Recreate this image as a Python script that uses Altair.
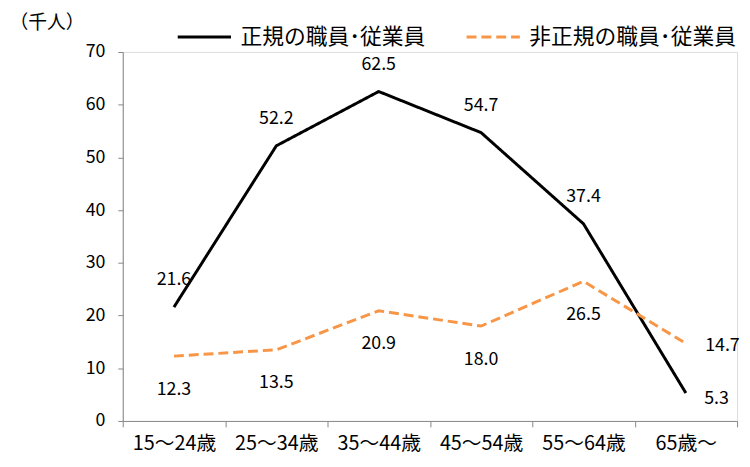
import altair as alt
import pandas as pd

categories = ["15～24歳", "25～34歳", "35～44歳", "45～54歳", "55～64歳", "65歳～"]
series_names = ["正規の職員･従業員", "非正規の職員･従業員"]
regular = [21.6, 52.2, 62.5, 54.7, 37.4, 5.3]
irregular = [12.3, 13.5, 20.9, 18.0, 26.5, 14.7]

rows = []
for i, c in enumerate(categories):
    rows.append({"age": c, "series": series_names[0], "value": regular[i], "idx": i})
    rows.append({"age": c, "series": series_names[1], "value": irregular[i], "idx": i})
df = pd.DataFrame(rows)

FONT = "Noto Sans CJK JP"
last = categories[-1]

x = alt.X("age:N", sort=categories, title=None,
          scale=alt.Scale(paddingInner=0, paddingOuter=0),
          axis=alt.Axis(labelAngle=0, tickBand="extent", labelFontSize=20, labelFont=FONT,
                        labelColor="#000", domainColor="#888", tickColor="#888",
                        tickSize=6, labelPadding=7, grid=False))
y = alt.Y("value:Q", scale=alt.Scale(domain=[0, 70]),
          axis=alt.Axis(values=list(range(0, 71, 10)), grid=False, labelFontSize=18,
                        labelFont=FONT, labelColor="#000", domainColor="#888",
                        tickColor="#888", tickSize=5, labelPadding=13,
                        title="（千人）", titleAngle=0, titleAlign="left",
                        titleBaseline="middle", titleX=-115, titleY=-30,
                        titleFont=FONT, titleFontSize=19, titleFontWeight="normal",
                        titleColor="#000"))

leg = dict(title=None, orient="none", legendX=54, legendY=-44,
           direction="horizontal", symbolType="stroke",
           symbolSize=2900, symbolStrokeWidth=3,
           labelFont=FONT, labelFontSize=22, labelColor="#000", labelLimit=400,
           columnPadding=34, labelOffset=8)
color = alt.Color("series:N", sort=series_names,
                  scale=alt.Scale(domain=series_names, range=["#000000", "#F79646"]),
                  legend=alt.Legend(**leg))
dash = alt.StrokeDash("series:N", sort=series_names,
                      scale=alt.Scale(domain=series_names, range=[[1, 0], [10, 5]]),
                      legend=alt.Legend(**leg))
sw = alt.StrokeWidth("series:N", scale=alt.Scale(domain=series_names, range=[3, 3]), legend=None)

base = alt.Chart(df)
lines = base.mark_line().encode(x=x, y=y, color=color, strokeDash=dash, strokeWidth=sw, order="idx:Q")

txt = dict(font=FONT, fontSize=18, color="#000")
reg_lab = base.transform_filter(
    (alt.datum.series == series_names[0]) & (alt.datum.age != last)
).mark_text(dy=-27, **txt).encode(x=x, y=y, text=alt.Text("value:Q", format=".1f"))
reg_last = base.transform_filter(
    (alt.datum.series == series_names[0]) & (alt.datum.age == last)
).mark_text(dx=31, dy=6, **txt).encode(x=x, y=y, text=alt.Text("value:Q", format=".1f"))
irr_lab = base.transform_filter(
    (alt.datum.series == series_names[1]) & (alt.datum.age != last)
).mark_text(dy=34, **txt).encode(x=x, y=y, text=alt.Text("value:Q", format=".1f"))
irr_last = base.transform_filter(
    (alt.datum.series == series_names[1]) & (alt.datum.age == last)
).mark_text(dx=37, dy=3, **txt).encode(x=x, y=y, text=alt.Text("value:Q", format=".1f"))

chart = alt.layer(lines, reg_lab, reg_last, irr_lab, irr_last).properties(
    width=621, height=373,
    autosize=alt.AutoSizeParams(type="none"),
    padding={"left": 116, "top": 42, "right": 5, "bottom": 36},
).configure_view(stroke=None).configure(background="white")

chart.save("out.html", embed_options={"renderer": "svg", "actions": False})
